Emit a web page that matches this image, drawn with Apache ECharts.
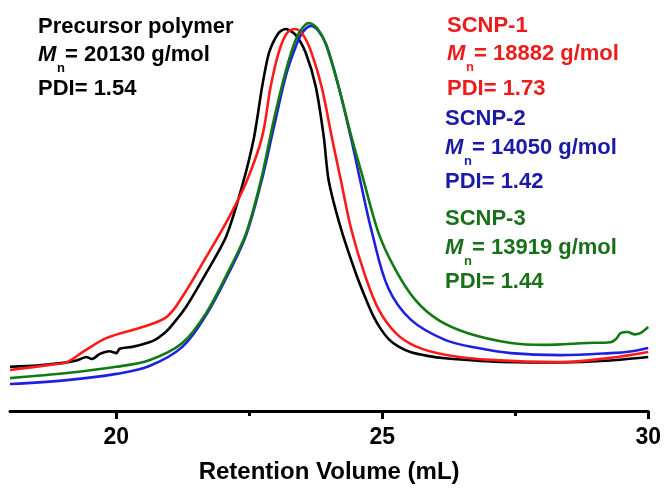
<!DOCTYPE html>
<html lang="en">
<head>
    <meta charset="UTF-8">
    <title>GPC traces</title>
    <script src="https://cdn.jsdelivr.net/npm/echarts@6/dist/echarts.min.js"></script>
</head>
<body style="margin:0">
    <div id="ec" style="width:664px;height:493px"></div>
</body>
<script>
    // retention volume (mL) / detector response (a.u.)
    var precursorX = [18.0,18.5,19.0,19.25,19.44,19.54,19.69,19.87,20.0,20.06,20.3,20.62,20.75,20.9,21.0,21.31,21.69,22.06,22.36,22.59,22.74,22.87,23.05,23.18,23.37,23.56,23.75,23.9,23.99,24.23,24.5,24.68,24.82,24.97,25.12,25.3,25.54,25.85,26.18,27.12,28.35,29.29,30.0]
    var precursorY = [11.3,11.6,12.3,12.9,13.8,13.3,14.6,15.3,14.8,15.9,16.4,17.6,18.4,19.9,21.2,26.6,35.3,44.5,57.3,70.1,82.9,91.6,96.7,97.7,96.2,91.6,82.9,70.1,59.1,46.3,35.3,29.0,24.6,21.0,18.4,16.5,15.0,14.1,13.5,12.6,12.4,12.9,13.8]

    var scnp1X = [18.0,18.75,19.07,19.37,19.82,20.49,20.94,21.24,21.69,22.12,22.46,22.74,22.9,23.05,23.2,23.37,23.52,23.67,23.86,24.05,24.22,24.42,24.68,24.93,25.25,25.62,26.18,27.12,28.35,29.29,30.0]
    var scnp1Y = [10.5,11.8,12.5,15.1,18.7,21.5,24.0,29.2,39.4,49.6,59.1,70.1,82.9,91.6,96.5,97.7,96.0,91.6,82.9,70.1,59.1,46.3,34.5,26.0,20.0,16.6,14.4,13.0,12.5,13.6,15.1]

    var scnp2X = [18.0,19.07,20.0,20.62,21.24,21.69,22.12,22.44,22.72,22.96,23.19,23.37,23.5,23.66,23.8,23.95,24.18,24.42,24.6,24.8,25.11,25.54,26.18,26.8,27.42,28.35,29.29,29.7,30.0]
    var scnp2Y = [6.9,7.9,9.5,11.5,16.4,24.6,35.5,45.0,58.3,72.5,85.9,93.1,96.8,98.5,97.2,93.6,82.9,69.3,58.0,46.0,31.5,23.3,18.2,16.1,14.8,14.3,14.8,15.3,16.1]

    var scnp3X = [18.0,19.07,20.0,20.62,21.24,21.69,22.12,22.44,22.72,22.96,23.19,23.37,23.5,23.62,23.77,23.93,24.18,24.42,24.61,24.93,25.25,25.62,26.05,26.61,27.42,28.05,28.86,29.29,29.4,29.48,29.61,29.75,29.85,30.0]
    var scnp3Y = [8.4,9.7,11.3,13.0,17.4,25.1,36.1,45.5,59.1,74.4,87.2,94.9,98.0,99.2,98.0,94.1,82.9,70.1,60.9,45.5,36.1,28.4,23.3,19.9,17.4,16.9,17.4,17.6,18.5,19.9,20.2,19.6,19.9,21.5]

    var majorTicks = [20, 25, 30]
    var minorTicks = [22.5, 27.5]

    var names = ['Precursor polymer', 'SCNP-1', 'SCNP-2', 'SCNP-3']
    var mnValues = ['20130', '18882', '14050', '13919']
    var pdiValues = ['1.54', '1.73', '1.42', '1.44']

    var lineColors = ['#000000', '#ff1a1a', '#1f1fe0', '#127a12']
    var textColors = ['#000000', '#ec1c1c', '#1a1aa6', '#187018']

    function pairs(xs, ys) {
        return xs.map(function (x, i) { return [x, ys[i]] })
    }

    var ff = '"Liberation Sans", Arial, sans-serif'

    // text blocks: left x, centre y of the three lines
    var blocks = [
        {x: 38, ys: [27, 55, 89]},
        {x: 447, ys: [26, 54, 89]},
        {x: 445, ys: [119, 148, 182]},
        {x: 445, ys: [219, 248, 282]}
    ]
    var graphic = []
    blocks.forEach(function (b, i) {
        var c = textColors[i]
        var f = 'bold 22px ' + ff
        graphic.push({type: 'text', x: b.x, y: b.ys[0], style: {text: names[i], fill: c, font: f, verticalAlign: 'middle'}})
        graphic.push({type: 'text', x: b.x, y: b.ys[1], style: {text: 'M', fill: c, font: 'italic bold 22px ' + ff, verticalAlign: 'middle'}})
        graphic.push({type: 'text', x: b.x + 19, y: b.ys[1] + 13, style: {text: 'n', fill: c, font: 'bold 13px ' + ff, verticalAlign: 'middle'}})
        graphic.push({type: 'text', x: b.x + 27, y: b.ys[1], style: {text: '= ' + mnValues[i] + ' g/mol', fill: c, font: f, verticalAlign: 'middle'}})
        graphic.push({type: 'text', x: b.x, y: b.ys[2], style: {text: 'PDI= ' + pdiValues[i], fill: c, font: f, verticalAlign: 'middle'}})
    })

    var series = [
        [precursorX, precursorY, 0.25],
        [scnp1X, scnp1Y, 0.35],
        [scnp2X, scnp2Y, 0.35],
        [scnp3X, scnp3Y, 0.3]
    ].map(function (s, i) {
        return {
            name: names[i],
            type: 'line',
            data: pairs(s[0], s[1]),
            smooth: s[2],
            showSymbol: false,
            lineStyle: {color: lineColors[i], width: 2.6},
            z: 2 + (i == 2 ? 0 : i)
        }
    })

    var mychart = echarts.init(document.getElementById('ec'))
    mychart.setOption({
        animation: false,
        grid: {left: 10, right: 13, top: 20, bottom: 82},
        xAxis: [{
            type: 'value', min: 18, max: 30,
            name: 'Retention Volume (mL)', nameLocation: 'middle', nameGap: 49,
            nameTextStyle: {fontFamily: ff, fontWeight: 'bold', fontSize: 24, color: '#000'},
            axisLine: {lineStyle: {color: '#000', width: 3}},
            axisTick: {customValues: majorTicks, length: 8, lineStyle: {width: 3, color: '#000'}},
            axisLabel: {customValues: majorTicks, margin: 15, fontFamily: ff, fontWeight: 'bold', fontSize: 23, color: '#000'},
            splitLine: {show: false}
        }, {
            type: 'value', min: 18, max: 30, position: 'bottom',
            axisLine: {show: false},
            axisTick: {customValues: minorTicks, length: 5, lineStyle: {width: 3, color: '#000'}},
            axisLabel: {show: false},
            splitLine: {show: false}
        }],
        yAxis: {type: 'value', min: 0, max: 100, show: false},
        graphic: graphic,
        series: series
    })
</script>
</html>
